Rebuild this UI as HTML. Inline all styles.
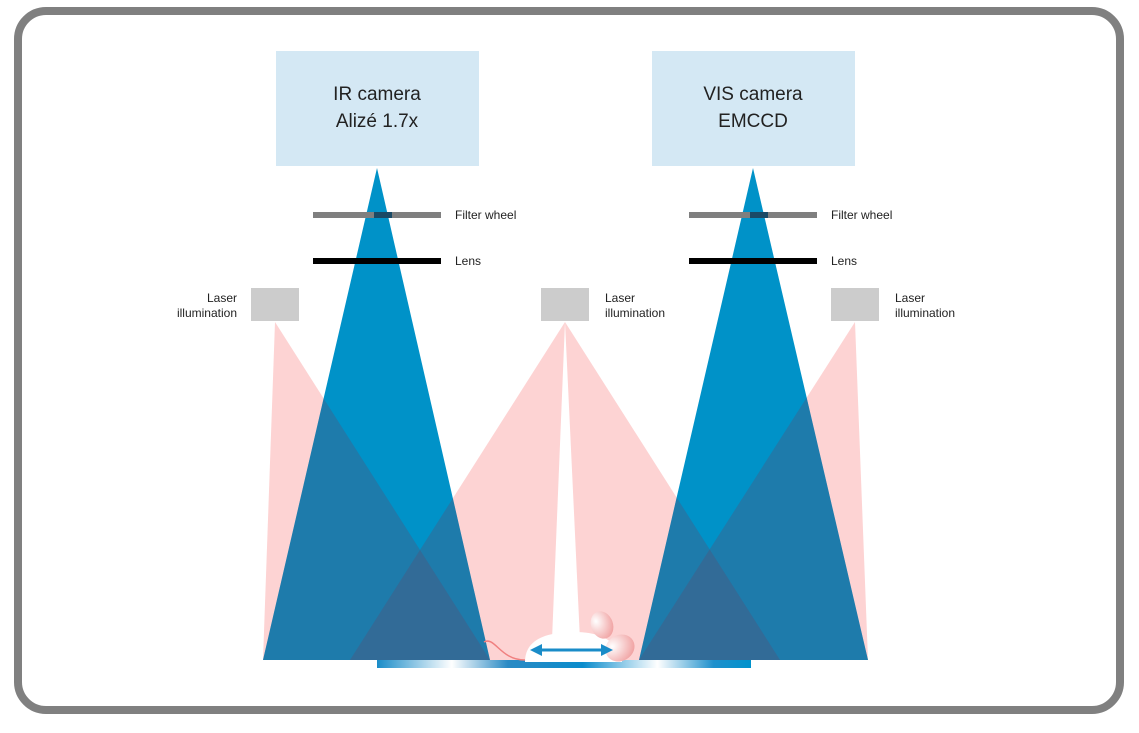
<!DOCTYPE html>
<html><head><meta charset="utf-8"><style>
html,body{margin:0;padding:0;background:#fff;}
svg{display:block;}
text{font-family:"Liberation Sans",sans-serif;}
</style></head><body>
<svg width="1139" height="733" viewBox="0 0 1139 733" xmlns="http://www.w3.org/2000/svg">
<defs>
<linearGradient id="bar" x1="0" x2="1" y1="0" y2="0">
<stop offset="0" stop-color="#1a8cc8"/>
<stop offset="0.2" stop-color="#ffffff"/>
<stop offset="0.35" stop-color="#2a8ac4"/>
<stop offset="0.55" stop-color="#0a8ccc"/>
<stop offset="0.75" stop-color="#ffffff"/>
<stop offset="0.9" stop-color="#1f90cc"/>
<stop offset="1" stop-color="#0092cc"/>
</linearGradient>
<radialGradient id="ear" cx="0.3" cy="0.3" r="0.8">
<stop offset="0" stop-color="#ffffff"/>
<stop offset="1" stop-color="#f0a0a0"/>
</radialGradient>
<clipPath id="blue">
<polygon points="377,168 263,660 490,660"/>
<polygon points="753,168 639,660 868,660"/>
</clipPath>
</defs>
<rect x="18" y="11" width="1102" height="699" rx="28" fill="#fff" stroke="#808080" stroke-width="8"/>
<!-- camera boxes -->
<rect x="276" y="51" width="203" height="115" fill="#d4e8f4"/>
<rect x="652" y="51" width="203" height="115" fill="#d4e8f4"/>
<text x="377" y="100" font-size="19" text-anchor="middle" fill="#222">IR camera</text>
<text x="377" y="127" font-size="19" text-anchor="middle" fill="#222">Alizé 1.7x</text>
<text x="753" y="100" font-size="19" text-anchor="middle" fill="#222">VIS camera</text>
<text x="753" y="127" font-size="19" text-anchor="middle" fill="#222">EMCCD</text>
<!-- pink -->
<g fill="#fdd3d3">
<polygon points="275,322 263,660 490,660"/>
<polygon points="565,322 350,660 780,660"/>
<polygon points="855,322 639,660 868,660"/>
</g>
<!-- blue cones -->
<polygon points="377,168 263,660 490,660" fill="#0092c8"/>
<polygon points="753,168 639,660 868,660" fill="#0092c8"/>
<g clip-path="url(#blue)" fill="#64466a" fill-opacity="0.3">
<polygon points="275,322 263,660 490,660"/>
<polygon points="565,322 350,660 780,660"/>
<polygon points="855,322 639,660 868,660"/>
</g>
<!-- white beam -->
<polygon points="565,322 552,640 580,640" fill="#fff"/>
<!-- bars -->
<rect x="313" y="212" width="128" height="6" fill="#7f7f7f"/>
<rect x="313" y="258" width="128" height="6" fill="#000"/>
<rect x="689" y="212" width="128" height="6" fill="#7f7f7f"/>
<rect x="689" y="258" width="128" height="6" fill="#000"/>
<rect x="374" y="212" width="18" height="6" fill="#1a4a66"/>
<rect x="750" y="212" width="18" height="6" fill="#1a4a66"/>
<g font-size="12" fill="#222">
<text x="455" y="219">Filter wheel</text>
<text x="455" y="265">Lens</text>
<text x="831" y="219">Filter wheel</text>
<text x="831" y="265">Lens</text>
<text x="237" y="302" text-anchor="end">Laser</text>
<text x="237" y="317" text-anchor="end">illumination</text>
<text x="605" y="302">Laser</text>
<text x="605" y="317">illumination</text>
<text x="895" y="302">Laser</text>
<text x="895" y="317">illumination</text>
</g>
<!-- lasers -->
<rect x="251" y="288" width="48" height="33" fill="#cccccc"/>
<rect x="541" y="288" width="48" height="33" fill="#cccccc"/>
<rect x="831" y="288" width="48" height="33" fill="#cccccc"/>
<!-- bottom bar -->
<rect x="377" y="660" width="374" height="8" fill="url(#bar)"/>
<!-- mouse -->
<path d="M484,642 C495,636 500,660 525,660" stroke="#f08080" stroke-width="1.5" fill="none"/>
<path d="M525,662 C525,640 545,632 575,632 C605,632 620,645 622,662 Z" fill="#fff"/>
<ellipse cx="602" cy="625" rx="11" ry="14" fill="url(#ear)" transform="rotate(-20 602 625)"/>
<ellipse cx="620" cy="648" rx="15" ry="13" fill="url(#ear)" transform="rotate(-30 620 648)"/>
<line x1="540" y1="650" x2="605" y2="650" stroke="#1a8cc8" stroke-width="3"/>
<polygon points="530,650 542,644 542,656" fill="#1a8cc8"/>
<polygon points="613,650 601,644 601,656" fill="#1a8cc8"/>
</svg>
</body></html>
